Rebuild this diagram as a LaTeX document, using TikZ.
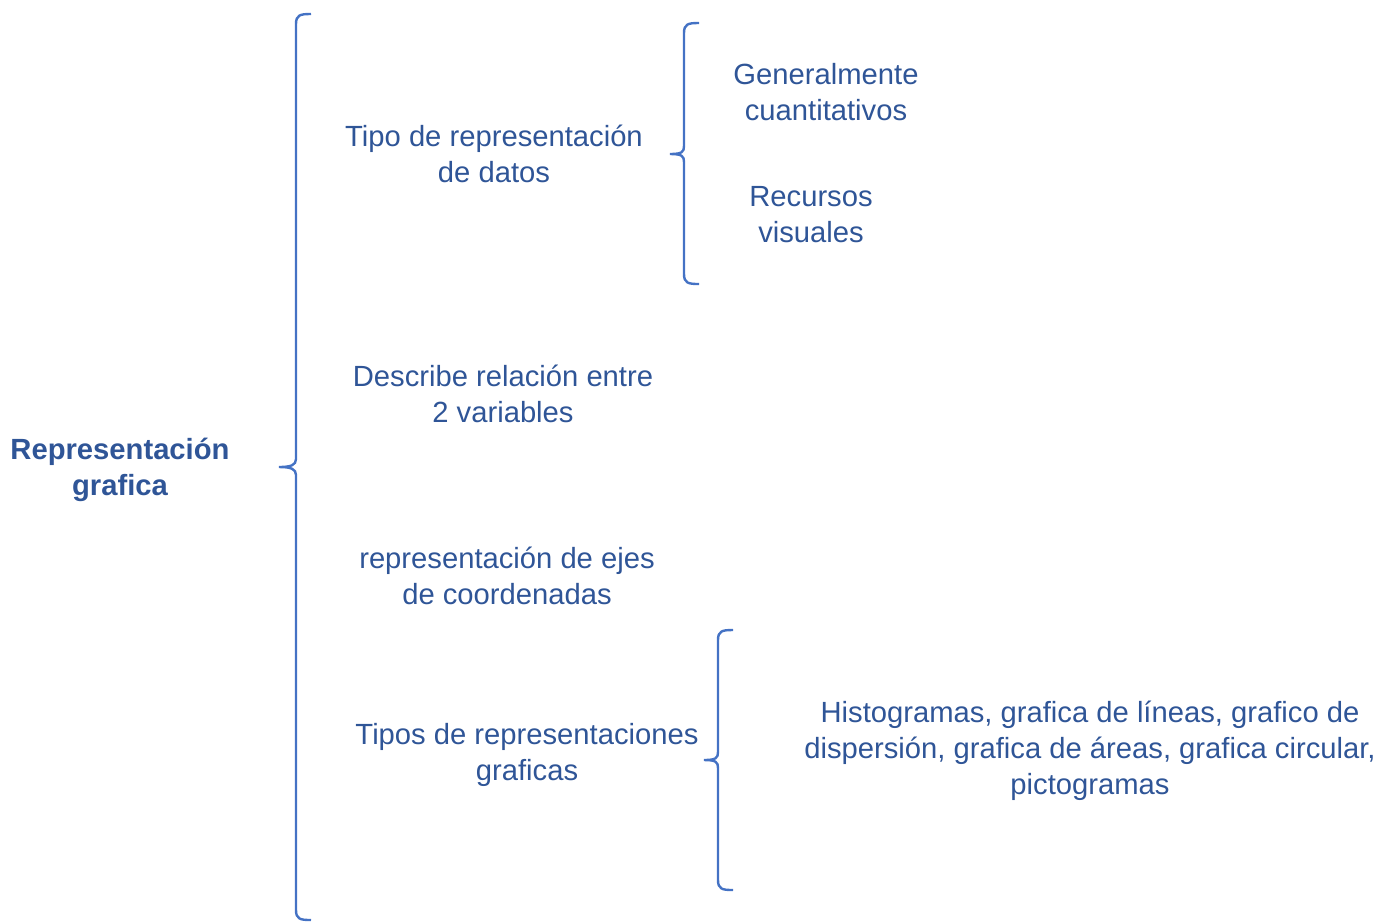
\documentclass[tikz,border=0pt]{standalone}
\usepackage{fontspec}
\setmainfont{Liberation Sans}
\usepackage{tikz}
\usetikzlibrary{calc}
\definecolor{braceblue}{RGB}{68,114,196}
\definecolor{textblue}{RGB}{47,85,151}
\newcommand*{\drawBrace}[1]{%
  \draw[brace] ($(#1Top)+(15,0)$) .. controls ($(#1Top)+(4,0)$) and ($(#1Top)+(0,1)$) .. ($(#1Top)+(0,10)$)
    -- ($(#1Top|-#1Tip)+(0,-8)$) .. controls ($(#1Top|-#1Tip)+(0,-2)$) and ($(#1Tip)+(12,0)$) .. (#1Tip)
    .. controls ($(#1Tip)+(12,0)$) and ($(#1Top|-#1Tip)+(0,2)$) .. ($(#1Top|-#1Tip)+(0,8)$)
    -- ($(#1Bot)+(0,-10)$) .. controls ($(#1Bot)+(0,-1)$) and ($(#1Bot)+(4,0)$) .. ($(#1Bot)+(15,0)$);}

\begin{document}
\begin{tikzpicture}[x=0.5pt, y=-0.5pt,
    brace/.style={braceblue, line width=1.2pt},
    txt/.style={textblue, align=center, inner sep=0pt, font=\fontsize{14.6}{18}\selectfont}]
        \useasboundingbox (0,0) rectangle (1390,923);

        % labels
        \node[txt, font=\fontsize{14.6}{18}\selectfont\bfseries] (repr) at (120,470) {Representación\\grafica};
        \node[txt] (tipoDatos) at (494,154) {Tipo de representación\\de datos};
        \node[txt] (describe) at (503,394) {Describe relación entre\\2 variables};
        \node[txt] (ejes) at (507,576) {representación de ejes\\de coordenadas};
        \node[txt] (tiposGraf) at (527,755) {Tipos de representaciones\\graficas};
        \node[txt] (cuanti) at (826,92) {Generalmente\\cuantitativos};
        \node[txt] (recursos) at (811,215) {Recursos\\visuales};
        \node[txt] (lista) at (1090,751) {Histogramas, grafica de líneas, grafico de\\dispersión, grafica de áreas, grafica circular,\\pictogramas};

        % braces
        \coordinate (mainTop) at (296,14);
        \coordinate (mainTip) at (279,467);
        \coordinate (mainBot) at (296,920);
        \drawBrace{main}

        \coordinate (datosTop) at (684,23);
        \coordinate (datosTip) at (670,154);
        \coordinate (datosBot) at (684,284);
        \drawBrace{datos}

        \coordinate (grafTop) at (718,630);
        \coordinate (grafTip) at (704,760);
        \coordinate (grafBot) at (718,890);
        \drawBrace{graf}
    \end{tikzpicture}
\end{document}
